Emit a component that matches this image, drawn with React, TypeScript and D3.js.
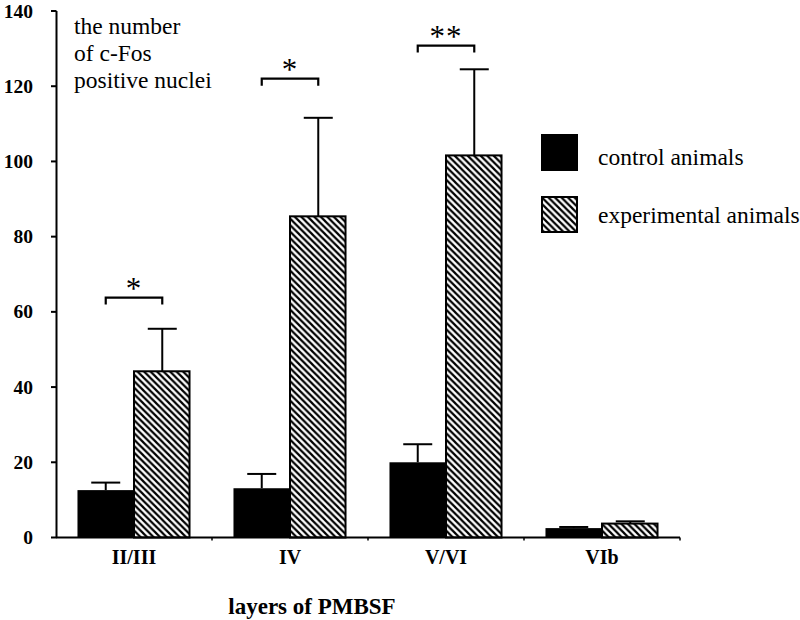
import React from "react";
import * as d3 from "d3";

const categories = ["II/III", "IV", "V/VI", "VIb"];
const series = ["control animals", "experimental animals"];
const controlValues = [12.6, 13.1, 20.0, 2.5];
const controlErrors = [2.0, 3.8, 4.8, 0.3];
const experimentalValues = [44.2, 85.4, 101.6, 3.7];
const experimentalErrors = [11.3, 26.2, 22.9, 0.6];
const sigLabels = ["*", "*", "**", ""];
const sigLevels = [63.8, 122, 130.8, 0];
const yTicks = [0, 20, 40, 60, 80, 100, 120, 140];
const yTitleLines = ["the number", "of c-Fos", "positive nuclei"];
const xTitle = "layers of PMBSF";

const W = 800;
const H = 620;
const FONT = "Liberation Serif, Times New Roman, serif";
const tf: React.CSSProperties = { fontFamily: FONT };

export default function App() {
  const x = d3.scaleBand<string>().domain(categories).range([56, 680]).padding(0);
  const inner = d3
    .scaleBand<string>()
    .domain(series)
    .range([0, x.bandwidth()])
    .paddingInner(0)
    .paddingOuter(0.38);
  const y = d3.scaleLinear().domain([0, 140]).range([537.5, 11]);
  const bw = inner.bandwidth();
  const capHalf = 14.5;

  const rows = categories.map((c, i) => ({
    c,
    i,
    vals: [controlValues[i], experimentalValues[i]],
    errs: [controlErrors[i], experimentalErrors[i]],
  }));

  return (
    <svg
      width={W}
      height={H}
      style={{ position: "absolute", left: 0, top: 0, background: "#fff" }}
    >
      <defs>
        <pattern id="hatch" patternUnits="userSpaceOnUse" width="6.5" height="6.5">
          <rect width="6.5" height="6.5" fill="#fff" />
          <path d="M0,0 L6.5,6.5 M-1,5.5 L1,7.5 M5.5,-1 L7.5,1" stroke="#000" strokeWidth="2.2" />
        </pattern>
      </defs>

      {/* bars */}
      {rows.map((r) =>
        series.map((s, si) => {
          const bx = (x(r.c) as number) + (inner(s) as number);
          const top = y(r.vals[si]);
          const etop = y(r.vals[si] + r.errs[si]);
          const cx = bx + bw / 2;
          return (
            <g key={r.c + s}>
              <line x1={cx} x2={cx} y1={top} y2={etop} stroke="#000" strokeWidth={2} />
              <line x1={cx - capHalf} x2={cx + capHalf} y1={etop} y2={etop} stroke="#000" strokeWidth={2} />
              {si === 0 ? (
                <rect x={bx} y={top} width={bw} height={y(0) - top} fill="#000" />
              ) : (
                <rect
                  x={bx}
                  y={top}
                  width={bw - 1}
                  height={y(0) - top}
                  fill="url(#hatch)"
                  stroke="#000"
                  strokeWidth={2}
                />
              )}
            </g>
          );
        })
      )}

      {/* significance brackets */}
      {rows.map((r) => {
        if (!sigLabels[r.i]) return null;
        const x1 = (x(r.c) as number) + (inner(series[0]) as number) + bw / 2;
        const x2 = (x(r.c) as number) + (inner(series[1]) as number) + bw / 2;
        const by = y(sigLevels[r.i]);
        return (
          <g key={"sig" + r.c}>
            <path
              d={`M${x1},${by + 7} L${x1},${by} L${x2},${by} L${x2},${by + 7}`}
              fill="none"
              stroke="#000"
              strokeWidth={2.2}
            />
            <text
              x={(x1 + x2) / 2}
              y={by + 1}
              textAnchor="middle"
              fontSize={31}
              letterSpacing={1}
              style={tf}
            >
              {sigLabels[r.i]}
            </text>
          </g>
        );
      })}

      {/* y axis */}
      <line x1={56.5} x2={56.5} y1={y(140)} y2={y(0)} stroke="#000" strokeWidth={2} />
      {yTicks.map((t) => (
        <g key={"yt" + t}>
          <line x1={51} x2={56.5} y1={y(t)} y2={y(t)} stroke="#000" strokeWidth={2} />
          <text x={33} y={y(t) + 6.5} textAnchor="end" fontSize={19.5} fontWeight="bold" style={tf}>
            {t}
          </text>
        </g>
      ))}

      {/* x axis */}
      <line x1={56} x2={680} y1={y(0)} y2={y(0)} stroke="#000" strokeWidth={2} />
      {categories.map((c, i) => (
        <g key={"xt" + c}>
          {i > 0 && (
            <line
              x1={x(c) as number}
              x2={x(c) as number}
              y1={y(0)}
              y2={y(0) + 3}
              stroke="#000"
              strokeWidth={1.5}
            />
          )}
          <text
            x={(x(c) as number) + x.bandwidth() / 2}
            y={564}
            textAnchor="middle"
            fontSize={20}
            fontWeight="bold"
            style={tf}
          >
            {c}
          </text>
        </g>
      ))}
      <line x1={680} x2={680} y1={y(0)} y2={y(0) + 3} stroke="#000" strokeWidth={1.5} />

      {/* axis titles */}
      <text fontSize={23.5} style={tf}>
        {yTitleLines.map((l, i) => (
          <tspan key={l} x={74} y={34 + i * 27}>
            {l}
          </tspan>
        ))}
      </text>
      <text x={312} y={614} textAnchor="middle" fontSize={23} fontWeight="bold" style={tf}>
        {xTitle}
      </text>

      {/* legend */}
      {series.map((s, i) => (
        <g key={"lg" + s}>
          {i === 0 ? (
            <rect x={541} y={134} width={37} height={37} fill="#000" />
          ) : (
            <rect x={542} y={197} width={35} height={35} fill="url(#hatch)" stroke="#000" strokeWidth={2} />
          )}
          <text x={598} y={165 + i * 58} fontSize={23.5} style={tf}>
            {s}
          </text>
        </g>
      ))}
    </svg>
  );
}
